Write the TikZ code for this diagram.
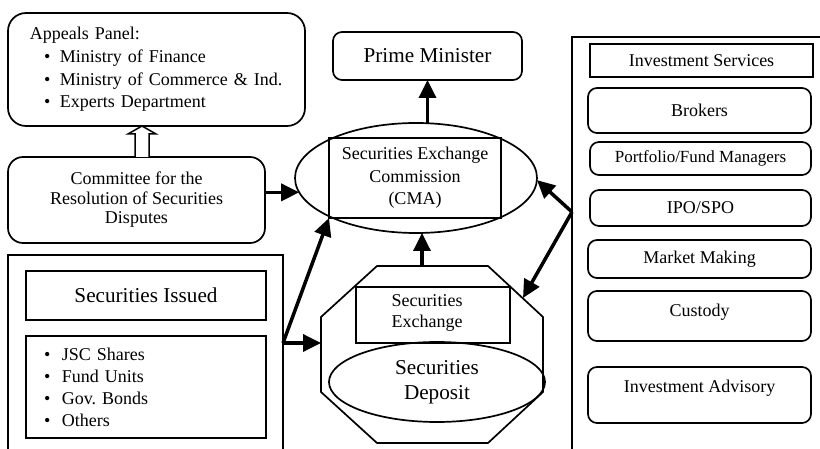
\documentclass[tikz,border=0pt]{standalone}
\usepackage{fontspec}
\setmainfont{Liberation Serif}
\usetikzlibrary{arrows.meta,shapes.geometric}
\frenchspacing
\begin{document}
\begin{tikzpicture}[x=1pt,y=-1pt,
  every node/.style={inner sep=0pt, outer sep=0pt},
  nfont/.style={font=\fontsize{18}{22}\selectfont},
  lfont/.style={font=\fontsize{21.2}{25}\selectfont},
  rbox/.style={draw, line width=1.7pt, rounded corners=9pt, nfont, align=center},
  sbox/.style={draw, line width=1.7pt, nfont, align=center},
  frame/.style={line width=1.7pt},
  arr/.style={line width=3.5pt, -{Triangle[length=18pt,width=17pt]}},
  hollow/.style={line width=1.5pt, fill=white},
]
\useasboundingbox (0,0) rectangle (820,449);
\clip (0,0) rectangle (820,449);

% Appeals panel
\node[rbox, rounded corners=18pt, text width=253pt, inner xsep=22pt, minimum height=113pt, align=left, font=\fontsize{18}{22.7}\selectfont] (appeals) at (156.5,69.5)
  {Appeals Panel:\\
   \hspace*{14pt}\textbullet\hspace{9.5pt}Ministry of Finance\\
   \hspace*{14pt}\textbullet\hspace{9.5pt}Ministry of Commerce \& Ind.\\
   \hspace*{14pt}\textbullet\hspace{9.5pt}Experts Department};

% Committee
\node[rbox, rounded corners=15pt, minimum width=257pt, minimum height=86pt, font=\fontsize{18}{19.5}\selectfont] (committee) at (136.5,200)
  {Committee for the\\Resolution of Securities\\Disputes};

% hollow arrow committee -> appeals
\draw[hollow] (committee.north -| 135,0) -- (135,134) -- (128,134) -- (appeals.south -| 142,0) -- (156,134) -- (149,134) -- (committee.north -| 149,0);

% Prime minister
\node[rbox, lfont, minimum width=189pt, minimum height=48pt] (prime) at (427.5,56) {Prime Minister};

% CMA
\node[draw, ellipse, line width=1.7pt, minimum width=242pt, minimum height=110pt] (cmae) at (416,178) {};
\node[sbox, minimum width=172pt, minimum height=80pt, font=\fontsize{18}{22.5}\selectfont] (cmar) at (415,178)
  {Securities Exchange\\Commission\\(CMA)};

% right frame
\draw[frame] (830,37) -- (572,37) -- (572,460);
\coordinate (rb) at (572,212);

\node[sbox, minimum width=223pt, minimum height=33pt] (invserv) at (701.5,60.5) {Investment Services};
\node[rbox, minimum width=223pt, minimum height=45pt] (brokers) at (699.5,110.5) {Brokers};
\node[rbox, minimum width=221pt, minimum height=33pt, font=\fontsize{17}{20}\selectfont] (portfolio) at (700.5,158.5) {Portfolio/Fund Managers};
\node[rbox, minimum width=221pt, minimum height=36pt] (ipo) at (700.5,208) {IPO/SPO};
\node[rbox, minimum width=223pt, minimum height=38pt] (market) at (699.5,259) {Market Making};
\node[rbox, minimum width=223pt, minimum height=50pt] (custody) at (699.5,316) {};
\node[nfont] (custodyt) at ([yshift=4pt]custody.center) {Custody};
\node[rbox, minimum width=223pt, minimum height=56pt] (advisory) at (699.5,395) {};
\node[nfont] (advisoryt) at ([yshift=7pt]advisory.center) {Investment Advisory};

% bottom-left frame
\draw[frame] (8,470) -- (8,255) -- (283,255) -- (283,470);
\coordinate (lb) at (283,343);

\node[sbox, lfont, minimum width=240pt, minimum height=49pt] (issued) at (146,295.5) {Securities Issued};
\node[sbox, minimum width=240pt, minimum height=102pt, text width=204pt, inner xsep=18pt, align=left, font=\fontsize{18}{22}\selectfont] (list) at (146,387)
  {\textbullet\hspace{11.5pt}JSC Shares\\
   \textbullet\hspace{11.5pt}Fund Units\\
   \textbullet\hspace{11.5pt}Gov.\ Bonds\\
   \textbullet\hspace{11.5pt}Others};

% octagon
\draw[frame] (377,266) -- (488,266) -- (543,317) -- (543,392) -- (488,443) -- (377,443) -- (321,392) -- (321,317) -- cycle;
\coordinate (octtop) at (422,266);
\coordinate (octleft) at (321,343);
\coordinate (octne) at (523,298);

\node[sbox, minimum width=154pt, minimum height=56pt, font=\fontsize{18}{21}\selectfont] (secex) at (433,315) {};
\node[font=\fontsize{18}{21}\selectfont, align=center] (secext) at ([xshift=-6pt,yshift=2pt]secex.center) {Securities\\Exchange};
\node[draw, ellipse, line width=1.7pt, minimum width=216pt, minimum height=80pt, lfont, align=center] (deposit) at (437,382) {Securities\\Deposit};

% arrows
\draw[arr] (cmae.north -| prime.south) -- (prime.south);
\draw[arr] (committee.east |- cmae.187) -- (cmae.187);
\draw[arr] (lb) -- (cmar.south west);
\draw[arr] (lb) -- (octleft);
\draw[arr] (octtop) -- (cmae.south -| octtop);
\draw[arr] (rb) -- (cmae.359);
\draw[arr] (rb) -- (octne);
\end{tikzpicture}
\end{document}
